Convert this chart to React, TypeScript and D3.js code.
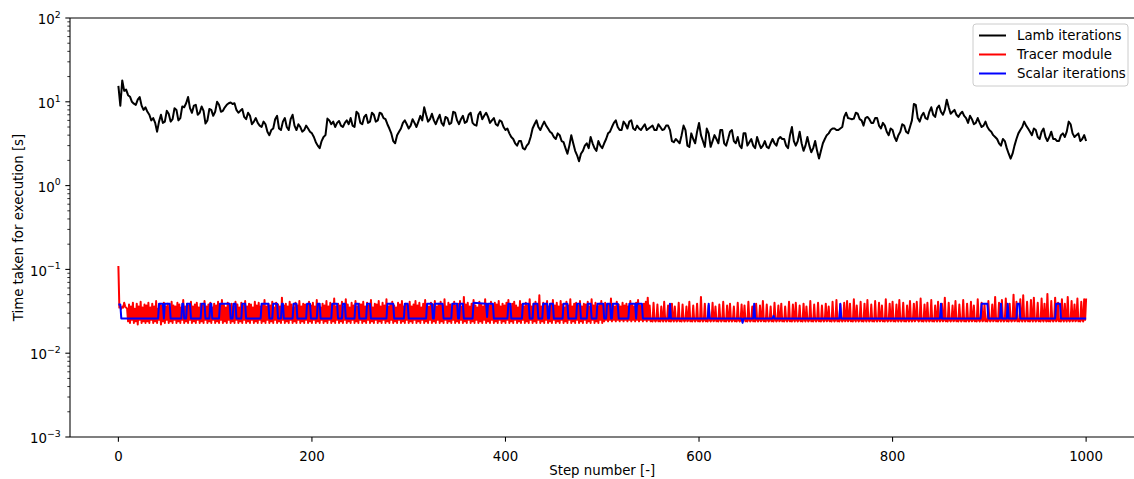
import React from "react";
import * as d3 from "d3";

// ---- data -------------------------------------------------------------

// Lamb iterations [s]: one reading every 2 steps, from step 0 to step 1000
const lambStep = 2;
const lambIterations = [
  15.5, 9.0, 18, 13.5, 14, 12, 11.5, 10, 9.5, 9.2, 10.6, 11.4, 9.0, 8.0, 8.6, 7.6, 7.0, 6.0, 6.4, 5.6,
  4.4, 5.8, 7.0, 5.6, 5.8, 7.8, 7.2, 5.8, 6.2, 8.4, 8.0, 6.0, 6.4, 8.8, 8.6, 9.6, 11.4, 8.4, 7.4, 9.0,
  9.2, 7.0, 7.4, 8.8, 7.8, 5.5, 6.0, 8.2, 8.0, 6.8, 7.6, 10.0, 9.2, 7.6, 7.8, 8.6, 9.2, 9.6, 9.8, 9.4,
  9.6, 8.0, 7.4, 7.8, 8.2, 6.6, 6.2, 7.4, 6.8, 5.4, 5.8, 6.4, 5.6, 5.2, 5.0, 5.8, 5.4, 4.4, 4.0, 4.6,
  4.8, 6.2, 6.8, 4.8, 4.6, 5.8, 6.4, 5.0, 4.6, 6.2, 7.0, 5.2, 4.6, 5.4, 5.0, 4.4, 4.6, 5.2, 4.8, 4.4,
  4.2, 3.8, 3.3, 3.0, 2.8, 3.4, 3.8, 4.0, 6.3, 6.0, 5.4, 5.8, 5.0, 5.6, 5.9, 5.2, 5.0, 5.6, 6.0, 5.4,
  6.4, 5.2, 5.0, 7.6, 7.2, 5.6, 5.4, 6.6, 7.0, 5.6, 5.8, 7.4, 7.0, 5.8, 6.0, 7.4, 7.2, 6.4, 6.2, 5.4,
  4.8, 4.2, 3.4, 3.2, 4.0, 4.4, 4.8, 5.6, 6.0, 5.4, 4.8, 5.2, 6.2, 5.6, 5.0, 5.8, 6.8, 6.0, 8.6, 7.0,
  5.8, 6.2, 7.2, 6.0, 5.4, 6.2, 7.0, 5.6, 5.2, 6.6, 6.4, 5.4, 5.6, 7.6, 7.4, 6.0, 5.4, 6.2, 6.8, 5.6,
  5.8, 7.0, 7.4, 5.6, 5.3, 5.2, 7.0, 7.6, 6.2, 6.8, 7.4, 6.6, 5.6, 6.0, 6.4, 5.4, 5.2, 6.0, 5.8, 5.0,
  4.6, 4.8, 4.2, 3.8, 3.6, 3.2, 3.0, 3.4, 3.4, 2.8, 2.7, 3.0, 3.2, 3.8, 4.8, 5.4, 6.0, 5.0, 4.6, 5.2,
  5.8, 5.2, 4.8, 4.4, 4.2, 3.8, 3.6, 4.2, 4.0, 3.4, 3.3, 2.8, 2.4, 3.0, 4.0, 3.2, 2.6, 2.3, 1.95, 2.4,
  2.6, 3.0, 3.2, 2.8, 3.8, 3.2, 2.8, 2.6, 3.4, 3.0, 2.8, 3.2, 3.6, 4.2, 4.4, 5.0, 5.6, 6.0, 5.0, 4.6,
  4.6, 5.8, 5.4, 4.8, 5.8, 6.0, 4.8, 4.6, 5.2, 4.8, 4.6, 5.0, 5.4, 4.6, 4.8, 5.0, 5.2, 4.6, 4.6, 5.4,
  5.0, 4.6, 4.7, 5.2, 5.2, 4.6, 3.4, 3.3, 3.6, 3.4, 3.2, 4.0, 5.2, 4.6, 3.0, 2.9, 4.2, 3.6, 3.2, 4.4,
  5.6, 4.0, 3.4, 2.9, 4.8, 4.2, 2.9, 3.4, 4.0, 3.6, 3.2, 4.6, 4.6, 3.2, 3.0, 3.6, 4.4, 4.6, 3.4, 3.2,
  3.8, 3.0, 2.8, 4.2, 4.2, 3.0, 3.3, 3.6, 3.0, 2.8, 3.8, 3.2, 2.8, 3.0, 3.4, 2.9, 2.8, 3.2, 3.6, 3.2,
  3.0, 3.6, 3.8, 3.6, 3.6, 3.0, 2.8, 4.0, 5.0, 3.4, 3.0, 3.4, 4.4, 3.2, 2.6, 3.0, 3.8, 3.0, 2.5, 2.8,
  3.4, 2.6, 2.1, 2.6, 3.2, 3.6, 4.0, 4.2, 4.6, 4.8, 4.8, 4.6, 4.6, 4.8, 5.0, 6.6, 7.4, 6.4, 6.3, 6.2,
  6.3, 7.4, 7.2, 6.2, 6.0, 5.2, 6.4, 6.6, 6.2, 5.6, 5.6, 6.4, 6.4, 5.2, 4.8, 5.6, 5.2, 4.4, 4.0, 4.8,
  4.6, 3.8, 3.4, 4.0, 4.4, 5.4, 5.2, 4.4, 4.2, 5.0, 6.0, 9.4, 9.2, 6.4, 5.8, 6.8, 7.4, 6.4, 6.2, 7.6,
  8.6, 7.0, 6.6, 8.4, 9.0, 7.6, 7.0, 8.0, 10.6, 8.6, 7.2, 7.6, 8.0, 7.0, 6.6, 7.2, 7.6, 6.8, 6.4, 5.6,
  6.8, 6.2, 5.4, 5.6, 6.4, 5.6, 5.0, 5.2, 5.8, 5.0, 4.6, 4.4, 4.0, 3.8, 3.6, 3.2, 3.0, 3.6, 3.4, 2.8,
  2.4, 2.1, 2.4, 3.0, 3.6, 4.2, 4.6, 5.0, 5.8, 5.2, 4.8, 4.4, 4.0, 4.8, 4.6, 3.8, 3.6, 4.4, 4.8, 3.8,
  3.4, 3.8, 4.4, 3.6, 3.6, 3.4, 3.4, 4.0, 4.2, 3.8, 4.4, 5.8, 5.4, 4.2, 3.8, 4.0, 4.2, 3.4, 3.6, 4.0,
  3.4,
];

// Tracer module [ms]: one reading per step, from step 0 to step 1000
const tracerModuleMs = [
  110,
  35, 35, 34, 36, 35, 40, 36, 35, 34, 24, 38, 23, 36, 25, 40, 23, 34, 24, 39, 22, 36, 25, 41, 23, 35,
  24, 38, 23, 37, 24, 40, 23, 35, 25, 39, 23, 36, 24, 42, 23, 34, 25, 38, 22, 37, 24, 40, 23, 36, 25,
  39, 23, 35, 24, 41, 23, 37, 25, 36, 23, 40, 24, 38, 23, 35, 25, 43, 23, 36, 24, 39, 23, 37, 25, 41,
  23, 36, 24, 38, 23, 40, 25, 35, 23, 39, 24, 37, 23, 42, 25, 36, 23, 38, 24, 40, 23, 35, 25, 39, 23,
  37, 24, 41, 23, 36, 25, 43, 23, 38, 24, 35, 23, 40, 25, 37, 23, 39, 24, 36, 23, 41, 25, 38, 23, 35,
  24, 40, 23, 37, 25, 42, 23, 36, 24, 39, 23, 38, 25, 35, 23, 41, 24, 37, 23, 40, 25, 36, 23, 38, 24,
  43, 23, 36, 25, 39, 23, 37, 24, 41, 23, 35, 25, 40, 23, 38, 24, 36, 23, 46, 25, 37, 23, 39, 24, 36,
  23, 41, 25, 38, 23, 35, 24, 40, 23, 37, 25, 42, 23, 36, 24, 39, 23, 38, 25, 36, 23, 41, 24, 37, 23,
  40, 25, 36, 23, 43, 24, 38, 23, 35, 25, 39, 23, 37, 24, 42, 23, 36, 25, 40, 23, 38, 24, 45, 23, 36,
  25, 39, 23, 37, 24, 41, 23, 36, 25, 44, 23, 38, 24, 35, 23, 40, 25, 37, 23, 42, 24, 36, 23, 39, 25,
  38, 23, 41, 24, 36, 23, 40, 25, 37, 23, 43, 24, 35, 23, 39, 25, 38, 23, 42, 24, 36, 23, 40, 25, 37,
  23, 44, 24, 36, 23, 39, 25, 41, 23, 37, 24, 35, 23, 40, 25, 38, 23, 42, 24, 36, 23, 39, 25, 37, 23,
  41, 24, 36, 23, 38, 25, 42, 23, 37, 24, 40, 23, 35, 25, 39, 23, 43, 24, 37, 23, 36, 25, 40, 23, 38,
  24, 42, 23, 36, 25, 39, 23, 41, 24, 37, 23, 44, 25, 36, 23, 40, 24, 38, 23, 35, 25, 41, 23, 37, 24,
  39, 23, 42, 25, 36, 23, 47, 24, 38, 23, 40, 25, 36, 23, 39, 24, 43, 23, 37, 25, 35, 23, 41, 24, 38,
  23, 36, 25, 44, 23, 39, 24, 37, 23, 41, 25, 36, 23, 40, 24, 38, 23, 42, 25, 36, 23, 39, 24, 37, 23,
  40, 25, 43, 23, 36, 24, 39, 23, 41, 25, 37, 23, 35, 24, 42, 23, 38, 25, 36, 23, 40, 24, 37, 23, 44,
  25, 36, 23, 39, 24, 41, 23, 37, 25, 49, 23, 36, 24, 40, 23, 38, 25, 42, 23, 36, 24, 39, 23, 43, 25,
  37, 23, 40, 24, 36, 23, 42, 25, 38, 23, 35, 24, 41, 23, 37, 25, 44, 23, 36, 24, 39, 23, 40, 25, 37,
  23, 42, 24, 36, 23, 39, 25, 38, 23, 41, 24, 36, 23, 44, 25, 37, 23, 40, 24, 36, 23, 39, 25, 42, 23,
  37, 24, 40, 25, 36, 24, 38, 25, 45, 24, 37, 25, 36, 24, 41, 25, 38, 24, 36, 25, 40, 24, 37, 25, 39,
  24, 36, 25, 42, 24, 38, 25, 36, 24, 40, 25, 43, 24, 37, 25, 36, 24, 39, 25, 41, 24, 46, 25, 37, 24,
  25, 24, 40, 25, 24, 25, 38, 24, 25, 24, 36, 25, 24, 41, 25, 24, 25, 37, 24, 25, 24, 39, 25, 24, 36,
  25, 24, 25, 40, 24, 25, 24, 38, 25, 24, 25, 36, 24, 25, 41, 24, 25, 24, 37, 25, 24, 25, 39, 24, 25,
  24, 47, 25, 24, 25, 39, 24, 25, 24, 37, 25, 24, 25, 40, 24, 25, 36, 24, 25, 24, 38, 25, 24, 25, 41,
  24, 25, 24, 37, 25, 24, 39, 25, 24, 25, 36, 24, 25, 24, 40, 25, 24, 25, 38, 24, 25, 37, 24, 25, 24,
  41, 25, 24, 25, 36, 24, 25, 24, 39, 25, 24, 25, 37, 24, 25, 42, 24, 25, 24, 38, 25, 24, 25, 36, 24,
  25, 24, 40, 25, 24, 25, 37, 24, 25, 39, 24, 25, 24, 36, 25, 24, 25, 41, 24, 25, 24, 38, 25, 24, 40,
  25, 24, 25, 37, 24, 25, 24, 39, 25, 24, 36, 25, 24, 25, 42, 24, 25, 24, 38, 25, 24, 25, 40, 24, 25,
  24, 37, 25, 24, 25, 39, 24, 25, 36, 24, 25, 24, 41, 25, 24, 25, 43, 24, 25, 24, 38, 25, 24, 25, 40,
  24, 25, 42, 24, 25, 39, 24, 25, 24, 44, 25, 24, 37, 25, 24, 25, 41, 24, 25, 24, 39, 25, 24, 43, 25,
  24, 25, 38, 24, 25, 24, 42, 25, 24, 25, 40, 24, 25, 37, 24, 25, 24, 44, 25, 24, 25, 39, 24, 25, 41,
  24, 25, 24, 38, 25, 24, 43, 25, 24, 25, 40, 24, 25, 24, 37, 25, 24, 42, 25, 24, 25, 39, 24, 25, 41,
  25, 24, 25, 45, 24, 25, 24, 38, 25, 24, 40, 25, 24, 25, 43, 24, 25, 24, 37, 25, 24, 41, 25, 24, 25,
  39, 24, 25, 46, 24, 25, 24, 40, 25, 24, 25, 37, 24, 25, 42, 24, 25, 24, 38, 25, 24, 25, 43, 24, 25,
  24, 39, 25, 24, 25, 41, 24, 25, 37, 24, 25, 24, 44, 25, 24, 25, 40, 24, 25, 38, 24, 25, 24, 42, 25,
  24, 25, 38, 24, 25, 47, 24, 25, 24, 40, 25, 24, 43, 25, 24, 25, 45, 24, 25, 24, 39, 25, 24, 25, 50,
  24, 25, 41, 24, 25, 24, 44, 25, 24, 49, 25, 24, 25, 41, 24, 25, 24, 43, 25, 24, 46, 25, 24, 25, 40,
  24, 25, 24, 45, 25, 24, 39, 25, 24, 51, 24, 25, 24, 42, 25, 24, 25, 46, 24, 25, 40, 24, 25, 24, 44,
  25, 24, 39, 25, 24, 47, 25, 24, 25, 42, 24, 25, 38, 24, 25, 45, 24, 25, 24, 41, 25, 24, 44, 25, 45,
];

// Scalar iterations: [step, seconds] at every point where the trace turns
const scalarIterations: [number, number][] = [
  [0, 0.038], [2, 0.038], [3, 0.026],
  [41, 0.026], [42, 0.039], [46, 0.039], [47, 0.026], [48, 0.039], [53, 0.039], [54, 0.026],
  [65, 0.026], [66, 0.039], [67, 0.039], [68, 0.026],
  [70, 0.026], [71, 0.039], [74, 0.039], [75, 0.026],
  [85, 0.026], [86, 0.039], [89, 0.039], [90, 0.026],
  [94, 0.026], [95, 0.039], [96, 0.039], [97, 0.026],
  [104, 0.026], [105, 0.039], [115, 0.039], [116, 0.026],
  [118, 0.026], [119, 0.039], [121, 0.039], [122, 0.026],
  [127, 0.026], [128, 0.039], [131, 0.039], [132, 0.026],
  [147, 0.026], [148, 0.039], [155, 0.039], [156, 0.026],
  [159, 0.026], [160, 0.039], [164, 0.039], [165, 0.026],
  [168, 0.026], [169, 0.039], [170, 0.039], [171, 0.026],
  [180, 0.026], [181, 0.039], [184, 0.039], [185, 0.026],
  [194, 0.026], [195, 0.039], [198, 0.039], [199, 0.026],
  [205, 0.026], [206, 0.039], [208, 0.039], [209, 0.026],
  [220, 0.026], [221, 0.039], [226, 0.039], [227, 0.026],
  [231, 0.026], [232, 0.039], [234, 0.039], [235, 0.026],
  [244, 0.026], [245, 0.039], [248, 0.039], [249, 0.026],
  [256, 0.026], [257, 0.039], [260, 0.039], [261, 0.026],
  [277, 0.026], [278, 0.039], [284, 0.039], [285, 0.026],
  [295, 0.026], [296, 0.039], [299, 0.039], [300, 0.026],
  [318, 0.026], [319, 0.039], [324, 0.039], [325, 0.026],
  [326, 0.026], [327, 0.039], [335, 0.039], [336, 0.026],
  [344, 0.026], [345, 0.039], [350, 0.039], [351, 0.026],
  [352, 0.026], [353, 0.039], [356, 0.039], [357, 0.026],
  [366, 0.026], [367, 0.040], [380, 0.039], [381, 0.027], [382, 0.039], [387, 0.039], [388, 0.026],
  [402, 0.026], [403, 0.039], [405, 0.039], [406, 0.026],
  [417, 0.026], [418, 0.039], [424, 0.039], [425, 0.026],
  [428, 0.026], [429, 0.039], [433, 0.039], [434, 0.026],
  [438, 0.026], [439, 0.039], [443, 0.039], [444, 0.026],
  [445, 0.026], [446, 0.039], [449, 0.039], [450, 0.026],
  [459, 0.026], [460, 0.039], [464, 0.039], [465, 0.026],
  [473, 0.026], [474, 0.039], [477, 0.039], [478, 0.026],
  [484, 0.026], [485, 0.039], [488, 0.039], [489, 0.026],
  [494, 0.026], [495, 0.039], [501, 0.039], [502, 0.026],
  [504, 0.026], [505, 0.039], [508, 0.039], [509, 0.026],
  [510, 0.026], [511, 0.039], [516, 0.039], [517, 0.026],
  [527, 0.026], [528, 0.039], [534, 0.039], [535, 0.026],
  [536, 0.039], [541, 0.039], [542, 0.026],
  [569, 0.026], [570, 0.039], [571, 0.026],
  [609, 0.026], [610, 0.039], [611, 0.026],
  [644, 0.026], [645, 0.023], [646, 0.026],
  [656, 0.026], [657, 0.039], [658, 0.026],
  [676, 0.026], [677, 0.028], [678, 0.026],
  [745, 0.026], [746, 0.039], [747, 0.026],
  [849, 0.026], [850, 0.039], [851, 0.026],
  [891, 0.026], [892, 0.039], [898, 0.039], [899, 0.026],
  [911, 0.026], [912, 0.039], [913, 0.026],
  [918, 0.026], [919, 0.039], [920, 0.026],
  [928, 0.026], [929, 0.039], [931, 0.039], [932, 0.026],
  [968, 0.026], [969, 0.039], [973, 0.039], [974, 0.026],
  [1000, 0.026],
];

const xTicks = [0, 200, 400, 600, 800, 1000];
const yExponents = [-3, -2, -1, 0, 1, 2];

const seriesNames = ["Lamb iterations", "Tracer module", "Scalar iterations"];
const seriesColors = ["#000000", "#ff0000", "#0000ff"];

// ---- chart ------------------------------------------------------------

const WIDTH = 1134;
const HEIGHT = 479;
const FONT = "'DejaVu Sans', sans-serif";
const FS = 13.33;

export default function App() {
  const left = 70;
  const right = 1134.5;
  const top = 18;
  const bottom = 437;

  const x = d3.scaleLinear().domain([-50, 1050]).range([left, right]);
  const y = d3.scaleLog().domain([1e-3, 1e2]).range([bottom, top]);

  const line = d3
    .line<[number, number]>()
    .x((d) => x(d[0]))
    .y((d) => y(d[1]));

  const lambPts: [number, number][] = lambIterations.map((v, i) => [i * lambStep, v]);
  const tracerPts: [number, number][] = tracerModuleMs.map((v, i) => [i, v / 1000]);

  const minorTicks: number[] = [];
  for (let e = -3; e < 2; e++) {
    for (let m = 2; m <= 9; m++) minorTicks.push(m * Math.pow(10, e));
  }

  const fmtExp = (e: number) => (e < 0 ? "\u2212" + Math.abs(e) : String(e));

  const legendX = 973;
  const legendY = 24;

  return (
    <svg
      width={WIDTH}
      height={HEIGHT}
      style={{ position: "absolute", left: 0, top: 0, background: "#ffffff" }}
      fontFamily={FONT}
    >
      <defs>
        <clipPath id="plot-area">
          <rect x={left} y={top} width={right - left} height={bottom - top} />
        </clipPath>
      </defs>

      <g clipPath="url(#plot-area)" fill="none" strokeLinejoin="round" strokeWidth={2}>
        <path d={line(lambPts) ?? ""} stroke={seriesColors[0]} />
        <path d={line(tracerPts) ?? ""} stroke={seriesColors[1]} />
        <path d={line(scalarIterations) ?? ""} stroke={seriesColors[2]} />
      </g>

      {/* spines */}
      <g stroke="#000" strokeWidth={1.07} fill="none">
        <line x1={left} x2={left} y1={top} y2={bottom} />
        <line x1={left} x2={right} y1={bottom} y2={bottom} />
        <line x1={left} x2={right} y1={top} y2={top} />
      </g>

      {/* x axis */}
      <g fontSize={FS} textAnchor="middle" fill="#000">
        {xTicks.map((t) => (
          <g key={t}>
            <line x1={x(t)} x2={x(t)} y1={bottom} y2={bottom + 4.67} stroke="#000" strokeWidth={1.07} />
            <text x={x(t)} y={461}>
              {t}
            </text>
          </g>
        ))}
        <text x={(left + right) / 2} y={475}>
          Step number [-]
        </text>
      </g>

      {/* y axis */}
      <g fill="#000">
        {minorTicks.map((t) => (
          <line key={t} x1={left - 2.67} x2={left} y1={y(t)} y2={y(t)} stroke="#000" strokeWidth={0.8} />
        ))}
        {yExponents.map((e) => {
          const v = Math.pow(10, e);
          return (
            <g key={e}>
              <line x1={left - 4.67} x2={left} y1={y(v)} y2={y(v)} stroke="#000" strokeWidth={1.07} />
              <text x={left - 9.3} y={y(v) + 6.2} fontSize={FS} textAnchor="end">
                10
                <tspan fontSize={9.3} dy={-6.5}>
                  {fmtExp(e)}
                </tspan>
              </text>
            </g>
          );
        })}
        <text
          transform={`translate(23, ${(top + bottom) / 2}) rotate(-90)`}
          textAnchor="middle"
          fontSize={FS}
        >
          Time taken for execution [s]
        </text>
      </g>

      {/* legend */}
      <g>
        <rect
          x={legendX}
          y={legendY}
          width={155}
          height={62}
          rx={3}
          fill="#ffffff"
          fillOpacity={0.8}
          stroke="#cccccc"
          strokeWidth={1}
        />
        {seriesNames.map((name, i) => {
          const ly = legendY + 11.5 + i * 19;
          return (
            <g key={name}>
              <line
                x1={legendX + 6}
                x2={legendX + 33}
                y1={ly}
                y2={ly}
                stroke={seriesColors[i]}
                strokeWidth={2}
              />
              <text x={legendX + 44} y={ly + 4.8} fontSize={FS} fill="#000">
                {name}
              </text>
            </g>
          );
        })}
      </g>
    </svg>
  );
}
